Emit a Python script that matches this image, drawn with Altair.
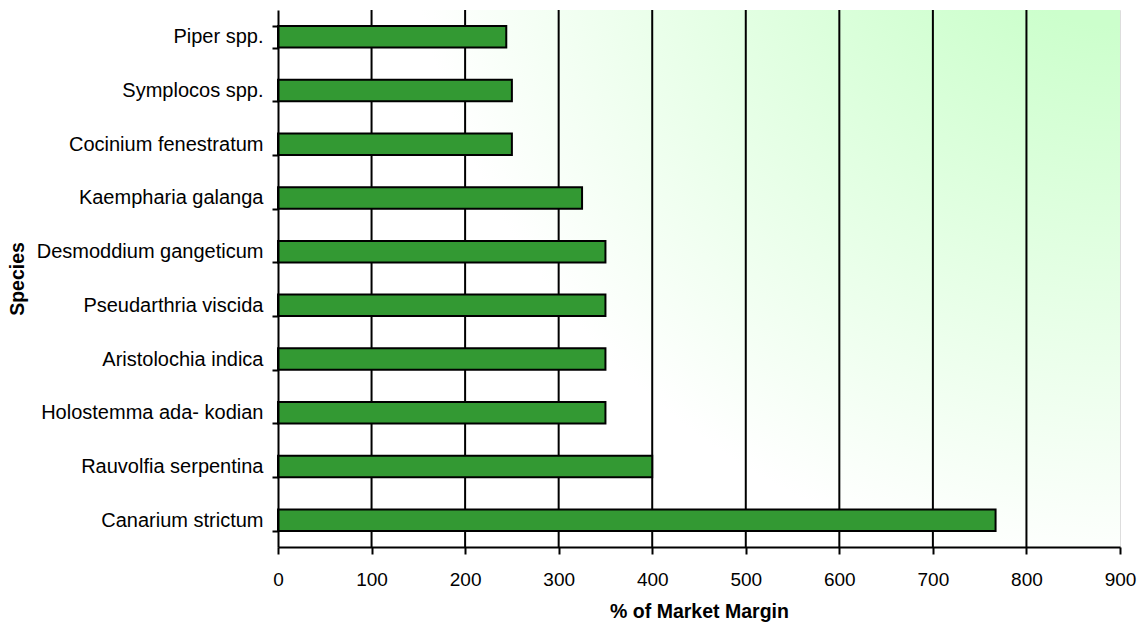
import altair as alt
import pandas as pd

# Species listed top to bottom; trailing non-breaking spaces keep the label offsets
species = [
    "Piper spp.",
    "Symplocos spp.",
    "Cocinium fenestratum",
    "Kaempharia galanga\u00a0",
    "Desmoddium gangeticum\u00a0",
    "Pseudarthria viscida",
    "Aristolochia indica",
    "Holostemma ada- kodian",
    "Rauvolfia serpentina\u00a0",
    "Canarium strictum\u00a0\u00a0",
]
margin_pct = [244, 250, 250, 325, 350, 350, 350, 350, 400, 767]
x_ticks = [0, 100, 200, 300, 400, 500, 600, 700, 800, 900]
grid_at = [100, 200, 300, 400, 500, 600, 700, 800]

bars_df = pd.DataFrame({"species": species, "margin": margin_pct})
grid_df = pd.DataFrame({"margin": grid_at})
span_df = pd.DataFrame({"margin": [0], "margin_end": [900]})

FONT = "Liberation Sans"
X_TITLE = "% of Market Margin"
x_scale = alt.Scale(domain=[0, 900], nice=False, zero=True)

x_axis = alt.Axis(
    values=x_ticks,
    grid=False,
    zindex=1,
    domainColor="black",
    domainWidth=2,
    tickColor="black",
    tickWidth=2,
    tickSize=7,
    labelFontSize=19,
    labelColor="black",
    labelFlush=False,
    labelPadding=31,
    labelBaseline="alphabetic",
    titleFontSize=19.5,
    titleFontWeight="bold",
    titleColor="black",
    titleBaseline="alphabetic",
    titleY=70,
)

# Soft green wash that fades out from the top-right corner
wash = alt.Gradient(
    gradient="radial",
    x1=1, y1=0, r1=0,
    x2=1, y2=0, r2=1,
    stops=[
        alt.GradientStop(offset=0, color="#ccffcc"),
        alt.GradientStop(offset=0.2, color="#ccffcc"),
        alt.GradientStop(offset=0.85, color="#ffffff"),
        alt.GradientStop(offset=1, color="#ffffff"),
    ],
)

background = alt.Chart(span_df).mark_rect(color=wash, strokeWidth=0).encode(
    x=alt.X("margin:Q", scale=x_scale, title=X_TITLE, axis=x_axis),
    x2="margin_end:Q",
    y=alt.value(0),
    y2=alt.value("height"),
)

grid = alt.Chart(grid_df).mark_rule(color="black", strokeWidth=2).encode(
    x=alt.X("margin:Q", scale=x_scale, title=X_TITLE, axis=x_axis)
)

bars = alt.Chart(bars_df).mark_bar(
    color="#339933", stroke="black", strokeWidth=2
).encode(
    x=alt.X("margin:Q", scale=x_scale, title=X_TITLE, axis=x_axis),
    y=alt.Y(
        "species:N",
        sort=species,
        scale=alt.Scale(paddingInner=0.6, paddingOuter=0.3),
        title="Species",
        axis=alt.Axis(
            tickBand="extent",
            grid=False,
            zindex=1,
            domainColor="black",
            domainWidth=2,
            tickColor="black",
            tickWidth=2,
            tickSize=6,
            labelFontSize=20,
            labelColor="black",
            labelPadding=9,
            labelLimit=400,
            titleFontSize=19.5,
            titleFontWeight="bold",
            titleColor="black",
            titleAngle=270,
            titleAlign="center",
            titleBaseline="middle",
            titleX=-261,
        ),
    ),
)

chart = (
    alt.layer(background, grid, bars)
    .properties(
        width=842,
        height=537,
        autosize=alt.AutoSizeParams(type="none"),
        padding={"left": 278, "top": 10, "right": 23, "bottom": 79},
        background="white",
    )
    .configure_view(stroke="#808080", strokeWidth=2)
    .configure(font=FONT)
)

chart.save("out.html", embed_options={"renderer": "svg", "actions": False})
